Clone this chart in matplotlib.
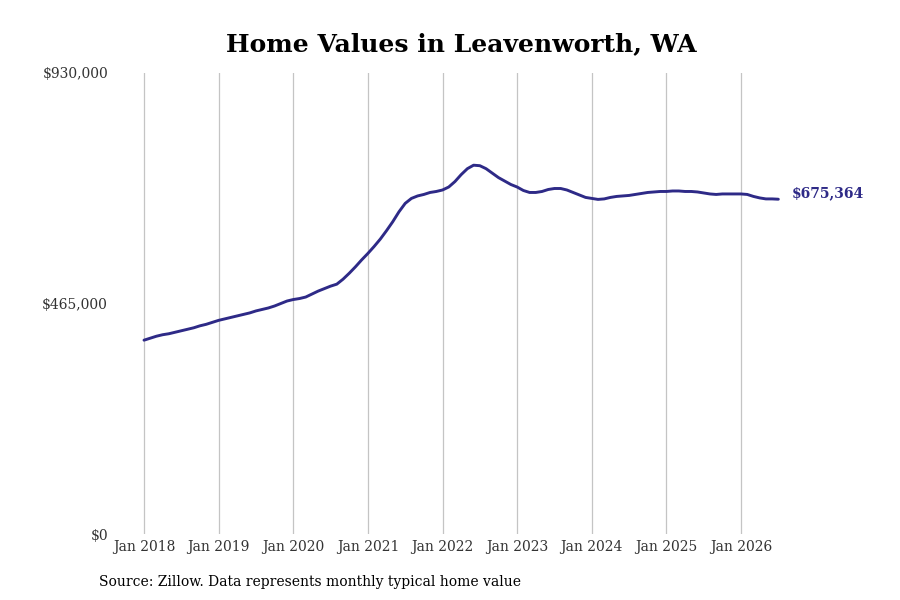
import matplotlib
matplotlib.use("Agg")
import matplotlib.pyplot as plt

# monthly typical home value, Jan 2018 .. Jul 2026
values = [
    391000, 395000, 399000, 402000, 404000, 407000, 410000, 413000, 416000, 420000, 423000, 427000,  # 2018
    431000, 434000, 437000, 440000, 443000, 446000, 450000, 453000, 456000, 460000, 465000, 470000,  # 2019
    473000, 475000, 478000, 484000, 490000, 495000, 500000, 504000, 514000, 526000, 539000, 553000,  # 2020
    566000, 580000, 595000, 612000, 630000, 650000, 667000, 677000, 682000, 685000, 689000, 691000,  # 2021
    694000, 700000, 711000, 725000, 737000, 744000, 743000, 737000, 728000, 719000, 712000, 705000,  # 2022
    700000, 693000, 689000, 689000, 691000, 695000, 697000, 697000, 694000, 689000, 684000, 679000,  # 2023
    677000, 675000, 676000, 679000, 681000, 682000, 683000, 685000, 687000, 689000, 690000, 691000,  # 2024
    691000, 692000, 692000, 691000, 691000, 690000, 688000, 686000, 685000, 686000, 686000, 686000,  # 2025
    686000, 685000, 681000, 678000, 676000, 676000, 675364,  # 2026
]
tick_labels = ["Jan 2018", "Jan 2019", "Jan 2020", "Jan 2021", "Jan 2022",
               "Jan 2023", "Jan 2024", "Jan 2025", "Jan 2026"]
y_ticks = [0, 465000, 930000]
y_labels = ["$0", "$465,000", "$930,000"]
last_label = "$675,364"

line_color = "#2e2a87"

plt.rcParams["font.family"] = "DejaVu Serif"

fig = plt.figure(figsize=(9, 6), dpi=100)
ax = fig.add_axes([115 / 900, 66 / 600, 685 / 900, 461 / 600])

months = list(range(len(values)))
ax.plot(months, values, color=line_color, linewidth=2.1, solid_capstyle="round")

ax.set_xlim(-29 / 6.219, 656 / 6.219)
ax.set_ylim(0, 930000)
ax.set_xticks(list(range(0, 12 * len(tick_labels), 12)))
ax.set_xticklabels(tick_labels, fontsize=10, color="#333333")
ax.set_yticks(y_ticks)
ax.set_yticklabels(y_labels, fontsize=10, color="#333333")
ax.tick_params(length=0, pad=4)
ax.tick_params(axis="y", pad=5)
ax.grid(axis="x", color="#c4c4c4", linewidth=0.9)
ax.grid(axis="y", visible=False)
for s in ax.spines.values():
    s.set_visible(False)

ax.annotate(last_label, xy=(months[-1], values[-1]), xytext=(10, 4),
            textcoords="offset points", color=line_color, fontsize=10,
            fontweight="bold", va="center", ha="left", annotation_clip=False)

fig.text(461 / 900, 1 - 44 / 600, "Home Values in Leavenworth, WA",
         ha="center", va="center", fontsize=18, fontweight="bold")
fig.text(99 / 900, 1 - 582 / 600, "Source: Zillow. Data represents monthly typical home value",
         ha="left", va="center", fontsize=10)

fig.savefig("out.png", dpi=100)
